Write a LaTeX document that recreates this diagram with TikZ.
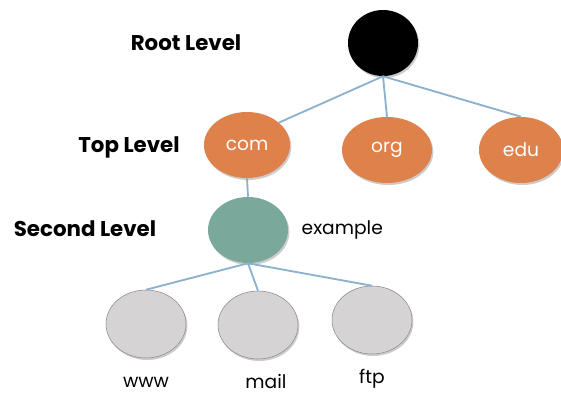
\documentclass[tikz,border=0pt]{standalone}
\usepackage{fontspec}
\setmainfont{Poppins}
\usetikzlibrary{shapes.geometric,shadows}
\definecolor{dnsorange}{RGB}{222,129,74}
\definecolor{dnsteal}{RGB}{122,168,155}
\definecolor{dnsgray}{RGB}{213,211,211}
\definecolor{dnsedge}{RGB}{142,137,137}
\definecolor{dnslink}{RGB}{141,178,206}

\begin{document}
\begin{tikzpicture}[x=0.75pt,y=0.75pt,yscale=-1,xscale=1,
  zone/.style={ellipse,inner sep=0pt,minimum width=64.5pt,minimum height=49.5pt,
    drop shadow={shadow xshift=1pt,shadow yshift=-1.5pt,opacity=0.4}},
  lvl/.style={font=\fontsize{16}{19}\selectfont\bfseries},
  dnstext/.style={font=\fontsize{14}{17}\selectfont},
  link/.style={draw=dnslink,line width=1.4pt}]
\useasboundingbox (0,0) rectangle (561,393);

% Root
\node (root) [zone,fill=black,minimum width=52.5pt] at (383,43) {};
% Top level domains
\node (com) [zone,fill=dnsorange,text=white,dnstext] at (247,145) {com};
\node (org) [zone,fill=dnsorange,text=white,dnstext,minimum width=67.5pt] at (387,150) {org};
\node (edu) [zone,fill=dnsorange,text=white,dnstext,minimum width=63pt] at (521,150) {edu};
% Second level
\node (example) [zone,fill=dnsteal,minimum width=60pt] at (248,230) {};
% Hosts
\node (www) [zone,fill=dnsgray,draw=dnsedge,minimum width=60pt,minimum height=51pt] at (146,324) {};
\node (mail) [zone,fill=dnsgray,draw=dnsedge,minimum width=60pt,minimum height=51pt] at (258,325) {};
\node (ftp) [zone,fill=dnsgray,draw=dnsedge,minimum width=60pt,minimum height=51pt] at (372,320) {};

% Links
\draw [link] (root.south) -- (com.35);
\draw [link] (root.south) -- (org.north);
\draw [link] (root.south) -- (edu.north);
\draw [link] (com.south) -- (example.north);
\draw [link] (example.south) -- (www.north);
\draw [link] (example.south) -- (mail.north);
\draw [link] (example.south) -- (ftp.north);

% Labels
\node (rootlbl) [lvl] at (186,43) {Root Level};
\node (toplbl) [lvl] at (129,147) {Top Level};
\node (seclbl) [lvl] at (85,229) {Second Level};
\node (exlbl) [dnstext,anchor=west] at (297,230) {example};
\node (wwwlbl) [dnstext,inner sep=1pt] at (146,382) {www};
\node (maillbl) [dnstext,inner sep=1pt] at (266,381) {mail};
\node (ftplbl) [dnstext,inner sep=1pt] at (372,379) {ftp};
\end{tikzpicture}
\end{document}
